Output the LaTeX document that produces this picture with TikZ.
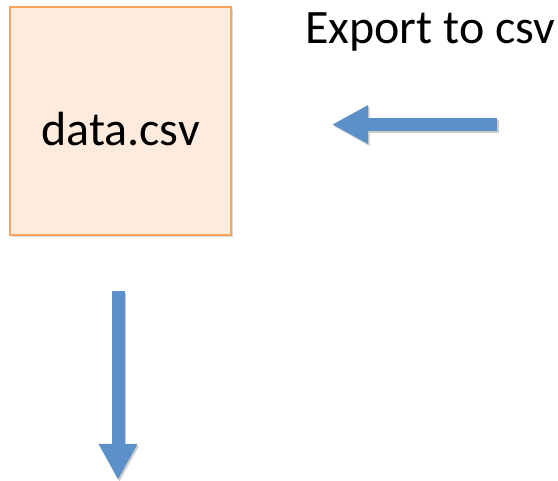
\documentclass[tikz,border=0pt]{standalone}
\usepackage{fontspec}
\setmainfont{Carlito}
\usetikzlibrary{arrows.meta,shadows}
\definecolor{boxfill}{HTML}{FDEBDD}
\definecolor{boxline}{HTML}{F8A45E}
\definecolor{arrowblue}{HTML}{5B90C8}
\tikzset{
  filebox/.style={draw=boxline, fill=boxfill, line width=1.5pt,
    minimum width=221pt, minimum height=228pt, inner sep=0pt,
    drop shadow={opacity=0.3, shadow xshift=1.5pt, shadow yshift=-2.5pt}},
  blockarrow/.style={draw=arrowblue, line width=13pt,
    -{Triangle[length=36pt,width=36pt]},
    preaction={draw=black!20, line width=13pt, transform canvas={shift={(1.5pt,-2pt)}},
      -{Triangle[length=36pt,width=36pt]}}},
  caption/.style={font=\fontsize{48}{58}\selectfont, inner sep=0pt}
}
\begin{document}
\begin{tikzpicture}[x=1pt,y=-1pt]
  \useasboundingbox (0,0) rectangle (558,481);
  % the file box and its label
  \node[filebox] (data) at (120.5,121) {};
  \node[caption, anchor=base] (datalabel) at (120.5,146) {data.csv};
  \node[caption, anchor=base west] (export) at (305,44) {Export to csv};
  % free ends of the two block arrows
  \coordinate (exportstart) at (497,124.5);
  \coordinate (exportend) at (332,124.5);
  \coordinate (downstart) at (118,291);
  \coordinate (downend) at (118,480);
  \draw[blockarrow] (exportstart) -- (exportend);
  \draw[blockarrow] (downstart) -- (downend);
\end{tikzpicture}
\end{document}
